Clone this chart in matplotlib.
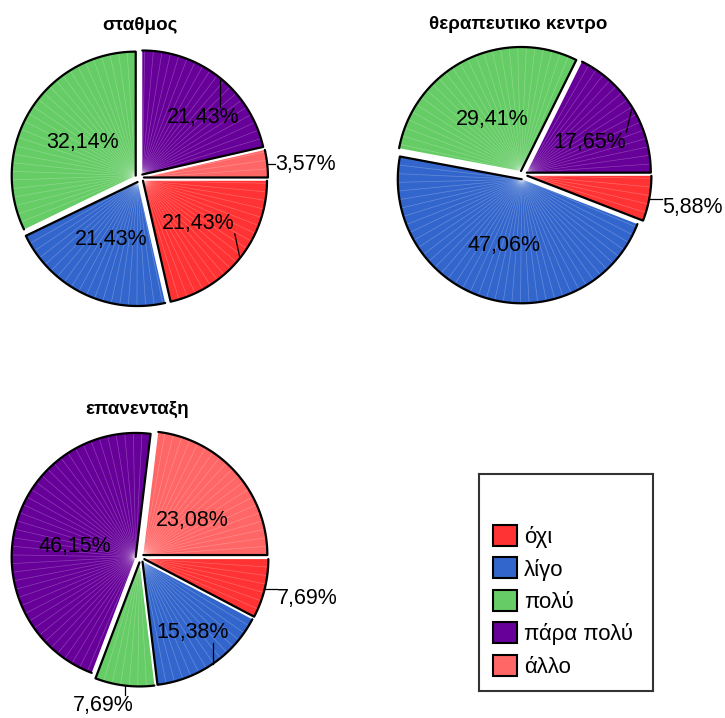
import numpy as np
import matplotlib
matplotlib.use('Agg')
import matplotlib.pyplot as plt
from matplotlib.patches import Patch
from matplotlib.collections import LineCollection

plt.rcParams['font.family'] = ['Liberation Sans', 'DejaVu Sans']

### DATA ###
categories = ['όχι', 'λίγο', 'πολύ', 'πάρα πολύ', 'άλλο']
colors = ['#FF3333', '#3366CC', '#66CC66', '#660099', '#FF6666']
titles = ['σταθμος', 'θεραπευτικο κεντρο', 'επανενταξη']
stathmos = [6, 6, 9, 6, 1]
therapeutiko = [1, 8, 5, 3, 0]
epanentaxi = [1, 2, 1, 6, 3]
############

W, H = 725, 718
R_PX = 124.0          # pie radius in pixels
HALF = 170.0          # half size of each pie axes in pixels
EXPLODE = 0.036

# label placement per slice: (radius, angle nudge in deg, outside?)
label_style = [
    [(0.60, 1, False), (0.55, 1, False), (0.54, 0, False), (0.71, -7.6, False), (1.10, -0.9, True)],
    [(1.15, -2.4, True), (0.585, 0.7, False), (0.51, 3, False), (0.60, -6, False), None],
    [(1.15, -2.5, True), (0.74, 0.6, False), (1.225, -7.2, True), (0.53, 4.2, False), (0.52, -5.5, False)],
]
leader_on = [
    [True, False, False, True, True],
    [True, False, False, True, False],
    [True, True, True, False, False],
]
centers = [(139.5, 178), (523, 175), (140, 558)]
title_pos = [(0.0, 1.23), (-0.04, 1.21), (-0.02, 1.20)]


def pie_axes(fig, cx, cy):
    rect = [(cx - HALF) / W, (H - cy - HALF) / H, 2 * HALF / W, 2 * HALF / H]
    ax = fig.add_axes(rect)
    return ax


def draw_pie(ax, counts, title, styles, leaders, tpos):
    idx = [i for i, c in enumerate(counts) if c > 0]
    vals = [counts[i] for i in idx]
    total = float(sum(vals))
    wedges, _ = ax.pie(vals, colors=[colors[i] for i in idx], explode=[EXPLODE] * len(vals),
                       startangle=0, counterclock=False, radius=1,
                       wedgeprops=dict(linewidth=0))
    lim = HALF / R_PX
    ax.set_xlim(-lim, lim)
    ax.set_ylim(-lim, lim)
    ax.set_aspect('equal')
    ax.axis('off')

    texts = []
    for w, i in zip(wedges, idx):
        c = np.array(w.center)
        t1, t2 = w.theta1, w.theta2
        # faint radial lines
        segs = []
        for a in np.arange(t1 + 4, t2, 4.0):
            ar = np.deg2rad(a)
            segs.append([c, c + w.r * np.array([np.cos(ar), np.sin(ar)])])
        ax.add_collection(LineCollection(segs, colors='white', linewidths=0.5, alpha=0.25))
        # outline: end edge + arc
        th = np.deg2rad(np.linspace(t1, t2, 80))
        xs = np.concatenate([[c[0]], c[0] + w.r * np.cos(th)])
        ys = np.concatenate([[c[1]], c[1] + w.r * np.sin(th)])
        ax.plot(xs, ys, color='black', lw=1.6, solid_joinstyle='round', solid_capstyle='round')

        pct = counts[i] / total * 100
        lab = f'{pct:.2f}%'.replace('.', ',')
        r, nudge, outside = styles[i]
        mid = (t1 + t2) / 2.0
        a = np.deg2rad(mid + nudge)
        x, y = r * np.cos(a), r * np.sin(a)
        if outside:
            if np.cos(a) > 0.5:
                ha = 'left'
            elif np.cos(a) < -0.5:
                ha = 'right'
            else:
                ha = 'center'
        else:
            ha = 'center'
        txt = ax.text(x, y, lab, ha=ha, va='center', fontsize=15.5, clip_on=False)
        texts.append((txt, w, mid, leaders[i]))

    ax.text(tpos[0], tpos[1], title, ha='center', va='center', fontsize=13.5,
            fontweight='bold', clip_on=False)
    return texts


fig = plt.figure(figsize=(W / 100, H / 100), dpi=100)

all_texts = []
for k, counts in enumerate([stathmos, therapeutiko, epanentaxi]):
    ax = pie_axes(fig, *centers[k])
    tl = draw_pie(ax, counts, titles[k], label_style[k], leader_on[k], title_pos[k])
    all_texts.append((ax, tl))

# legend box
lx0, ly0, lx1, ly1 = 479, 474, 653, 691
lax = fig.add_axes([lx0 / W, (H - ly1) / H, (lx1 - lx0) / W, (ly1 - ly0) / H])
lax.set_xticks([])
lax.set_yticks([])
for s in lax.spines.values():
    s.set_color('#333333')
    s.set_linewidth(1.5)
handles = [Patch(facecolor=c, edgecolor='black', linewidth=1.5) for c in colors]
lax.legend(handles, categories, loc='upper left', bbox_to_anchor=(14 / 174, 1 - 51 / 217),
           frameon=False, fontsize=16, handlelength=1.08, handleheight=1.08,
           handletextpad=0.3, labelspacing=0.42, borderaxespad=0, borderpad=0)

# leader lines (need text extents)
fig.canvas.draw()
renderer = fig.canvas.get_renderer()
for ax, tl in all_texts:
    inv = ax.transData.inverted()
    for txt, w, mid, on in tl:
        if not on:
            continue
        a = np.deg2rad(mid)
        p = np.array(w.center) + w.r * np.array([np.cos(a), np.sin(a)])
        bb = txt.get_window_extent(renderer).transformed(inv)
        q = np.array([np.clip(p[0], bb.x0, bb.x1), np.clip(p[1], bb.y0, bb.y1)])
        ax.plot([p[0], q[0]], [p[1], q[1]], color='black', lw=0.9, clip_on=False)

fig.savefig('out.png', dpi=100)
